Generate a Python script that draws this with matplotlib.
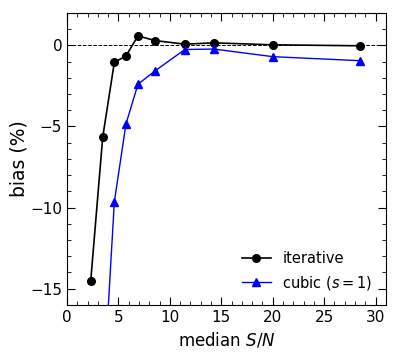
import matplotlib
matplotlib.use('Agg')
import matplotlib.pyplot as plt
from matplotlib.ticker import MultipleLocator

sn = [2.3, 3.47, 4.6, 5.73, 6.9, 8.57, 11.46, 14.27, 20.0, 28.5]
bias_iter = [-14.55, -5.66, -1.05, -0.66, 0.58, 0.29, 0.07, 0.15, 0.03, -0.03]
bias_cubic = [-40.0, -22.0, -9.65, -4.85, -2.4, -1.57, -0.26, -0.23, -0.70, -0.95]


def main():
    fig = plt.figure(figsize=(3.99, 3.57), dpi=100)
    ax = fig.add_axes([0.168, 0.146, 0.799, 0.818])

    ax.axhline(0, color='black', ls='--', lw=0.7)
    ax.plot(sn, bias_iter, '-o', color='black', ms=5.5, lw=1.2, label='iterative')
    ax.plot(sn, bias_cubic, '-^', color='blue', ms=5.5, lw=1.0, label='cubic ($s=1$)')

    ax.set_xlim(0, 31)
    ax.set_ylim(-16, 2)
    ax.xaxis.set_major_locator(MultipleLocator(5))
    ax.xaxis.set_minor_locator(MultipleLocator(1))
    ax.yaxis.set_major_locator(MultipleLocator(5))
    ax.yaxis.set_minor_locator(MultipleLocator(1))
    ax.tick_params(which='both', direction='in', top=True, right=True, labelsize=11)
    ax.tick_params(which='major', length=6)
    ax.tick_params(which='minor', length=3)

    ax.set_xlabel('median $S/N$', fontsize=12)
    ax.set_ylabel('bias (%)', fontsize=13.5, labelpad=1)
    ax.legend(loc='lower right', frameon=False, fontsize=10.5, handlelength=2.0)

    fig.savefig('out.png', dpi=100)


if __name__ == '__main__':
    main()
